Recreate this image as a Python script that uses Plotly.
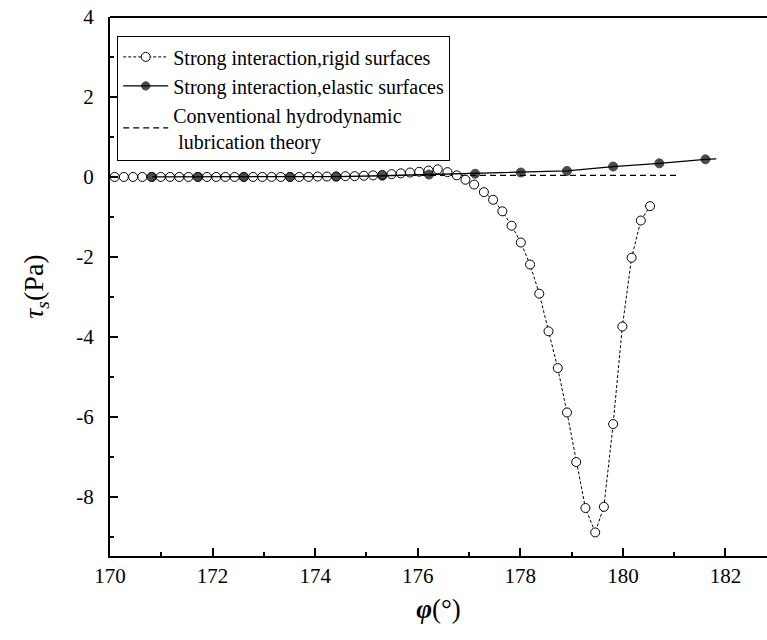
import plotly.graph_objects as go

# Shear stress tau_s (Pa) against angle phi (deg)

# Strong interaction, rigid surfaces (open circles)
rigid_phi = [170.09, 170.27, 170.45, 170.63, 170.81, 170.99, 171.17, 171.35, 171.53, 171.71,
             171.89, 172.07, 172.25, 172.43, 172.61, 172.79, 172.97, 173.15, 173.33, 173.51,
             173.69, 173.87, 174.05, 174.23, 174.41, 174.59, 174.77, 174.95, 175.13, 175.31,
             175.49, 175.67, 175.85, 176.03, 176.21, 176.39, 176.58, 176.76, 176.93, 177.10,
             177.29, 177.47, 177.65, 177.83, 178.01, 178.19, 178.37, 178.55, 178.73, 178.91,
             179.09, 179.27, 179.46, 179.63, 179.81, 179.99, 180.17, 180.35, 180.53]
rigid_tau = [0.0, 0.0, 0.0, 0.0, 0.0, 0.0, 0.0, 0.0, 0.0, 0.0,
             0.0, 0.0, 0.0, 0.0, 0.0, 0.0, 0.0, 0.0, 0.0, 0.0,
             0.0, 0.0, 0.01, 0.01, 0.01, 0.02, 0.02, 0.03, 0.04, 0.05,
             0.07, 0.09, 0.11, 0.13, 0.16, 0.19, 0.12, 0.04, -0.07, -0.19,
             -0.38, -0.57, -0.86, -1.22, -1.64, -2.19, -2.92, -3.86, -4.78, -5.89,
             -7.13, -8.28, -8.89, -8.25, -6.18, -3.74, -2.02, -1.09, -0.73]

# Strong interaction, elastic surfaces (filled circles; last point ends the curve)
elastic_phi = [170.82, 171.72, 172.61, 173.51, 174.41, 175.31, 176.22, 177.12, 178.01,
               178.91, 179.81, 180.71, 181.61, 181.82]
elastic_tau = [0.0, 0.0, 0.0, 0.0, 0.01, 0.03, 0.06, 0.08, 0.11, 0.15, 0.26, 0.34, 0.44, 0.45]
elastic_marker = [9, 9, 9, 9, 9, 9, 9, 9, 9, 9, 9, 9, 9, 0]

# Conventional hydrodynamic lubrication theory
conv_phi = [170.0, 181.06]
conv_tau = [0.04, 0.04]

x_ticks = [170, 172, 174, 176, 178, 180, 182]
y_ticks = [-8, -6, -4, -2, 0, 2, 4]
y_tick_text = ["-8", "-6", "-4", "-2", "0", "2", "4"]

FONT = "Liberation Serif, Times New Roman, serif"

fig = go.Figure()

fig.add_trace(go.Scatter(
    x=conv_phi, y=conv_tau, mode="lines",
    name="Conventional hydrodynamic<br>\u00a0lubrication theory",
    line=dict(color="black", width=1.2, dash="6px,4px"),
    legendrank=3,
))

fig.add_trace(go.Scatter(
    x=rigid_phi, y=rigid_tau, mode="lines+markers",
    name="Strong interaction,rigid surfaces",
    line=dict(color="black", width=1, dash="3px,2px"),
    marker=dict(symbol="circle", size=9, color="white",
                line=dict(color="black", width=1)),
    legendrank=1,
))

fig.add_trace(go.Scatter(
    x=elastic_phi, y=elastic_tau, mode="lines+markers",
    name="Strong interaction,elastic surfaces",
    line=dict(color="black", width=1.3),
    marker=dict(symbol="circle", size=elastic_marker, color="black",
                line=dict(color="black", width=1)),
    legendrank=2,
))

axis_common = dict(
    showline=True, linecolor="black", linewidth=2, mirror=False,
    showgrid=False, zeroline=False,
    ticks="inside", ticklen=8, tickwidth=1.5, tickcolor="black",
    tickfont=dict(family=FONT, size=21, color="black"),
)

fig.update_xaxes(
    range=[170, 182.81], tickvals=x_ticks,
    minor=dict(ticks="inside", ticklen=4, tickwidth=1.5, tickcolor="black", dtick=1),
    title=dict(text="<b><i>φ</i></b>(°)", font=dict(family=FONT, size=27, color="black"),
               standoff=12),
    **axis_common,
)
fig.update_yaxes(
    range=[-9.48, 4], tickvals=y_ticks, ticktext=y_tick_text,
    minor=dict(ticks="inside", ticklen=4, tickwidth=1.5, tickcolor="black", dtick=1),
    ticklabelstandoff=10,
    title=dict(text="<i>τ</i><sub><i>s</i></sub>(Pa)", font=dict(family=FONT, size=28, color="black"),
               standoff=24),
    **axis_common,
)

# top frame line
fig.add_shape(type="line", xref="paper", yref="paper", x0=0, x1=1, y0=1, y1=1,
              line=dict(color="black", width=2))

fig.update_layout(
    width=767, height=640,
    margin=dict(l=110, r=0, t=17, b=84),
    paper_bgcolor="white", plot_bgcolor="white",
    font=dict(family=FONT, color="black"),
    showlegend=True,
    legend=dict(
        x=0.011, y=0.964, xanchor="left", yanchor="top",
        bgcolor="white", bordercolor="black", borderwidth=1,
        font=dict(family=FONT, size=20, color="black"),
        itemwidth=45, tracegroupgap=0,
    ),
)

fig.write_html("out.html")
